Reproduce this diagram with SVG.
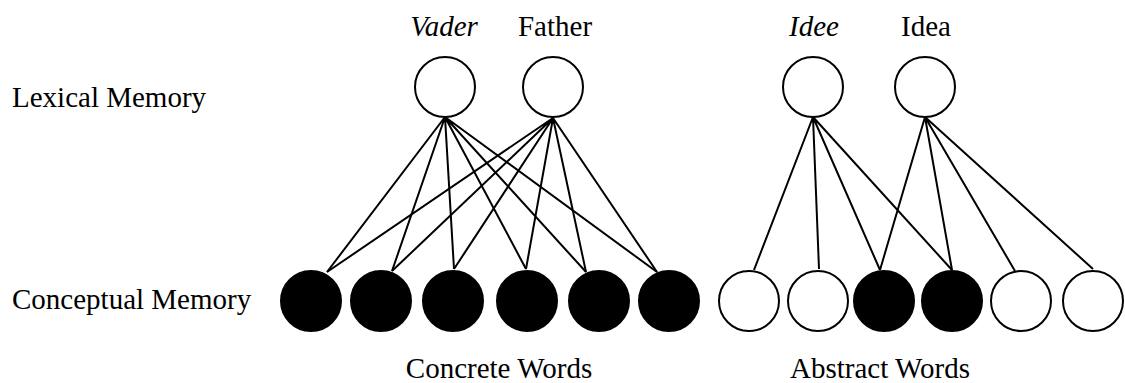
<svg xmlns="http://www.w3.org/2000/svg" width="1125" height="383" viewBox="0 0 1125 383">
<style>
text{font-family:"Liberation Serif","Times New Roman",serif;font-size:29px;fill:#000}
.it{font-style:italic}
.mid{text-anchor:middle}
.open{fill:#fff;stroke:#000;stroke-width:2}
.full{fill:#000;stroke:#000;stroke-width:2}
.ln{stroke:#000;stroke-width:2;fill:none}
</style>
<rect width="1125" height="383" fill="#fff"/>
<g id="labels">
<text x="12" y="107">Lexical Memory</text>
<text x="12" y="309">Conceptual Memory</text>
<text class="mid" x="499" y="378">Concrete Words</text>
<text class="mid" x="880" y="378">Abstract Words</text>
</g>
<g id="connectors">
<path class="ln" d="M445 117L327 272M445 117L392 271M445 117L454 269M445 117L526 269M445 117L586 272M445 117L657 272"/>
<path class="ln" d="M553 118L327 272M553 118L392 271M553 118L454 269M553 118L526 269M553 118L586 272M553 118L657 272"/>
<path class="ln" d="M813 117L754 270M813 117L819 269M813 117L880 270M813 117L952 270"/>
<path class="ln" d="M925 117L880 270M925 117L952 270M925 117L1015 271M925 117L1093 269"/>
</g>
<g id="vader"><circle class="open" cx="445" cy="87" r="30"/><text class="mid it" x="444" y="36">Vader</text></g>
<g id="father"><circle class="open" cx="553" cy="87" r="30"/><text class="mid" x="555" y="36">Father</text></g>
<g id="idee"><circle class="open" cx="813" cy="87" r="30"/><text class="mid it" x="814" y="36">Idee</text></g>
<g id="idea"><circle class="open" cx="925" cy="87" r="30"/><text class="mid" x="926" y="36">Idea</text></g>
<g id="c1"><circle class="full" cx="311" cy="301" r="30"/></g>
<g id="c2"><circle class="full" cx="381" cy="301" r="30"/></g>
<g id="c3"><circle class="full" cx="453" cy="301" r="30"/></g>
<g id="c4"><circle class="full" cx="527" cy="301" r="30"/></g>
<g id="c5"><circle class="full" cx="599" cy="301" r="30"/></g>
<g id="c6"><circle class="full" cx="669" cy="301" r="30"/></g>
<g id="a1"><circle class="open" cx="749" cy="301" r="30"/></g>
<g id="a2"><circle class="open" cx="818" cy="301" r="30"/></g>
<g id="a3"><circle class="full" cx="884" cy="301" r="30"/></g>
<g id="a4"><circle class="full" cx="952" cy="301" r="30"/></g>
<g id="a5"><circle class="open" cx="1021" cy="301" r="30"/></g>
<g id="a6"><circle class="open" cx="1093" cy="301" r="30"/></g>
</svg>
